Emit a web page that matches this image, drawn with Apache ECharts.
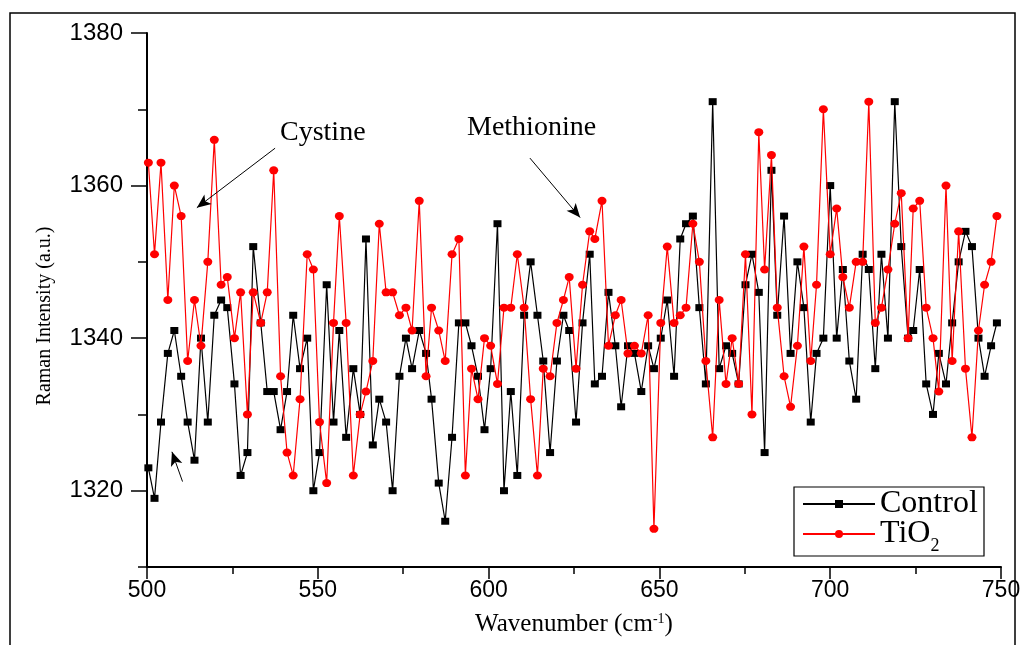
<!DOCTYPE html>
<html>
<head>
<meta charset="utf-8">
<script src="https://cdn.jsdelivr.net/npm/echarts@6/dist/echarts.min.js"></script>
<style>html,body{margin:0;padding:0;background:#fff}#c{width:1024px;height:645px}</style>
</head>
<body>
<div id="c"></div>
<script>
// Wavenumber positions (cm-1) of the sampled points
const wavenumbers = [
  500.4, 502.2, 504.1, 506.1, 508.0, 510.0, 511.9, 513.9, 515.8, 517.8, 519.7, 521.7, 523.5, 525.6, 527.4, 529.4, 531.1,
  533.3, 535.2, 537.1, 539.1, 541.0, 542.8, 544.8, 546.9, 548.7, 550.5, 552.6, 554.6, 556.3, 558.3, 560.4, 562.4, 564.1,
  566.1, 568.0, 570.0, 571.9, 573.9, 575.8, 577.6, 579.7, 581.7, 583.3, 585.4, 587.3, 589.3, 591.3, 593.2, 595.0,
  596.9, 598.8, 600.6, 602.6, 604.5, 606.5, 608.4, 610.4, 612.3, 614.3, 616.0, 618.0, 620.0, 621.9, 623.6, 625.6, 627.5,
  629.6, 631.1, 633.2, 635.1, 637.1, 638.8, 640.8, 642.7, 644.7, 646.7, 648.4, 650.4, 652.3, 654.3, 656.1, 657.8, 659.8,
  661.7, 663.6, 665.6, 667.5, 669.5, 671.3, 673.2, 675.2, 677.1, 679.1, 680.8, 682.8, 684.5, 686.5, 688.4, 690.4, 692.3,
  694.3, 696.0, 698.0, 700.0, 701.9, 703.7, 705.6, 707.6, 709.5, 711.3, 713.2, 715.0, 716.9, 718.9, 720.8, 722.8, 724.3,
  726.2, 728.1, 730.1, 731.8, 733.9, 735.7, 737.6, 739.6, 741.5, 743.4, 745.2, 747.1, 748.8
];
const controlValues = [
  1323, 1319, 1329, 1338, 1341, 1335, 1329, 1324, 1340, 1329, 1343, 1345, 1344, 1334, 1322, 1325, 1352,
  1342, 1333, 1333, 1328, 1333, 1343, 1336, 1340, 1320, 1325, 1347, 1329, 1341, 1327, 1336, 1330, 1353,
  1326, 1332, 1329, 1320, 1335, 1340, 1336, 1341, 1338, 1332, 1321, 1316, 1327, 1342, 1342, 1339,
  1335, 1328, 1336, 1355, 1320, 1333, 1322, 1343, 1350, 1343, 1337, 1325, 1337, 1343, 1341, 1329, 1342,
  1351, 1334, 1335, 1346, 1339, 1331, 1339, 1338, 1333, 1339, 1336, 1340, 1345, 1335, 1353, 1355, 1356,
  1344, 1334, 1371, 1336, 1339, 1338, 1334, 1347, 1351, 1346, 1325, 1362, 1343, 1356, 1338, 1350, 1344,
  1329, 1338, 1340, 1360, 1340, 1349, 1337, 1332, 1351, 1349, 1336, 1351, 1340, 1371, 1352, 1340, 1341,
  1349, 1334, 1330, 1338, 1334, 1342, 1350, 1354, 1352, 1340, 1335, 1339, 1342
];
const tio2Values = [
  1363, 1351, 1363, 1345, 1360, 1356, 1337, 1345, 1339, 1350, 1366, 1347, 1348, 1340, 1346, 1330, 1346,
  1342, 1346, 1362, 1335, 1325, 1322, 1332, 1351, 1349, 1329, 1321, 1342, 1356, 1342, 1322, 1330, 1333,
  1337, 1355, 1346, 1346, 1343, 1344, 1341, 1358, 1335, 1344, 1341, 1337, 1351, 1353, 1322, 1336,
  1332, 1340, 1339, 1334, 1344, 1344, 1351, 1344, 1332, 1322, 1336, 1335, 1342, 1345, 1348, 1336, 1347,
  1354, 1353, 1358, 1339, 1343, 1345, 1338, 1339, 1338, 1343, 1315, 1342, 1352, 1342, 1343, 1344, 1355,
  1350, 1337, 1327, 1345, 1334, 1340, 1334, 1351, 1330, 1367, 1349, 1364, 1344, 1335, 1331, 1339, 1352,
  1337, 1347, 1370, 1351, 1357, 1348, 1344, 1350, 1350, 1371, 1342, 1344, 1349, 1355, 1359, 1340, 1357,
  1358, 1344, 1340, 1333, 1360, 1337, 1354, 1336, 1327, 1341, 1347, 1350, 1356
];
const yMajorTicks = [1320, 1340, 1360, 1380];
const yMinorTicks = [1310, 1330, 1350, 1370];
const xMajorTicks = [500, 550, 600, 650, 700, 750];
const xMinorTicks = [525, 575, 625, 675, 725];
const seriesNames = ['Control', 'TiO2'];

const pair = (vals) => wavenumbers.map((x, i) => [x, vals[i]]);
const serif = '"Liberation Serif", "Times New Roman", serif';
const sans = '"Liberation Sans", Arial, sans-serif';
const plain = (v) => String(v);

const chart = echarts.init(document.getElementById('c'), null, {renderer: 'canvas'});
const baseX = {type: 'value', min: 500, max: 750, interval: 25, position: 'bottom', splitLine: {show: false}};
const baseY = {type: 'value', min: 1310, max: 1380, interval: 10, position: 'left', splitLine: {show: false}};

chart.setOption({
  animation: false,
  backgroundColor: '#fff',
  grid: {left: 147, right: 23, top: 33, bottom: 78, containLabel: false},
  xAxis: [
    Object.assign({}, baseX, {
      axisLine: {lineStyle: {color: '#000', width: 2}},
      axisTick: {show: true, length: 12, inside: false, customValues: xMajorTicks, lineStyle: {color: '#000', width: 1.5}},
      axisLabel: {customValues: xMajorTicks, formatter: plain, color: '#000', fontFamily: sans, fontSize: 23, margin: 12},
      name: 'Wavenumber (cm{sup|-1})',
      nameLocation: 'middle', nameGap: 45,
      nameTextStyle: {color: '#000', fontFamily: serif, fontSize: 25,
        rich: {sup: {fontSize: 14, fontFamily: serif, color: '#000', verticalAlign: 'top', lineHeight: 14}}}
    }),
    Object.assign({}, baseX, {
      axisLine: {show: false},
      axisTick: {show: true, length: 7, customValues: xMinorTicks, lineStyle: {color: '#000', width: 1.5}},
      axisLabel: {show: false}
    })
  ],
  yAxis: [
    Object.assign({}, baseY, {
      axisLine: {show: true, lineStyle: {color: '#000', width: 2}},
      axisTick: {show: true, length: 16, customValues: yMajorTicks, lineStyle: {color: '#000', width: 1.5}},
      axisLabel: {customValues: yMajorTicks, formatter: plain, color: '#000', fontFamily: sans, fontSize: 24, margin: 24}
    }),
    Object.assign({}, baseY, {
      axisLine: {show: false},
      axisTick: {show: true, length: 9, customValues: yMinorTicks, lineStyle: {color: '#000', width: 1.5}},
      axisLabel: {show: false}
    })
  ],
  legend: {
    left: 794, top: 488,
    orient: 'vertical',
    itemWidth: 72, itemHeight: 10, itemGap: -2,
    padding: [0, 6, 0, 8],
    data: seriesNames,
    formatter: (n) => n === 'TiO2' ? '{a|TiO}{b|2}' : '{a|' + n + '}',
    textStyle: {
      color: '#000', fontFamily: serif, fontSize: 32,
      rich: {
        a: {fontFamily: serif, fontSize: 32, color: '#000', lineHeight: 26, verticalAlign: 'middle'},
        b: {fontFamily: serif, fontSize: 18, color: '#000', lineHeight: 2, height: 1, verticalAlign: 'bottom'}
      }
    }
  },
  series: [
    {
      name: seriesNames[0], type: 'line', data: pair(controlValues),
      symbol: 'rect', symbolSize: [8, 7], showSymbol: true,
      lineStyle: {color: '#000', width: 1.2}, itemStyle: {color: '#000'},
      z: 2
    },
    {
      name: seriesNames[1], type: 'line', data: pair(tio2Values),
      symbol: 'circle', symbolSize: [9, 8], showSymbol: true,
      lineStyle: {color: '#ff0000', width: 1.2}, itemStyle: {color: '#ff0000'},
      z: 3,
      markLine: {
        silent: true, symbol: ['none', 'arrow'], symbolSize: [9, 14],
        lineStyle: {color: '#000', width: 1, type: 'solid'},
        label: {show: false},
        data: [
          [{coord: [537.5, 1364.9]}, {coord: [514.6, 1357.1]}],
          [{coord: [510.4, 1321.2]}, {coord: [507.3, 1325.1]}],
          [{coord: [612.1, 1363.6]}, {coord: [626.8, 1355.8]}]
        ]
      }
    }
  ],
  graphic: [
    {type: 'rect', shape: {x: 10, y: 13, width: 1005, height: 640}, style: {fill: 'none', stroke: '#000', lineWidth: 1.5}, silent: true},
    {type: 'rect', z: 100, shape: {x: 794, y: 487, width: 190, height: 69}, style: {fill: 'none', stroke: '#000', lineWidth: 1.2}, silent: true},
    {type: 'text', left: 280, top: 119, style: {text: 'Cystine', font: '28px ' + serif, fill: '#000'}},
    {type: 'text', left: 467, top: 114, style: {text: 'Methionine', font: '28px ' + serif, fill: '#000'}},
    {type: 'text', x: 45, y: 316, rotation: Math.PI / 2,
      style: {text: 'Raman Intensity (a.u.)', font: '20px ' + serif, fill: '#000', align: 'center', verticalAlign: 'middle'}}
  ]
});
</script>
</body>
</html>
